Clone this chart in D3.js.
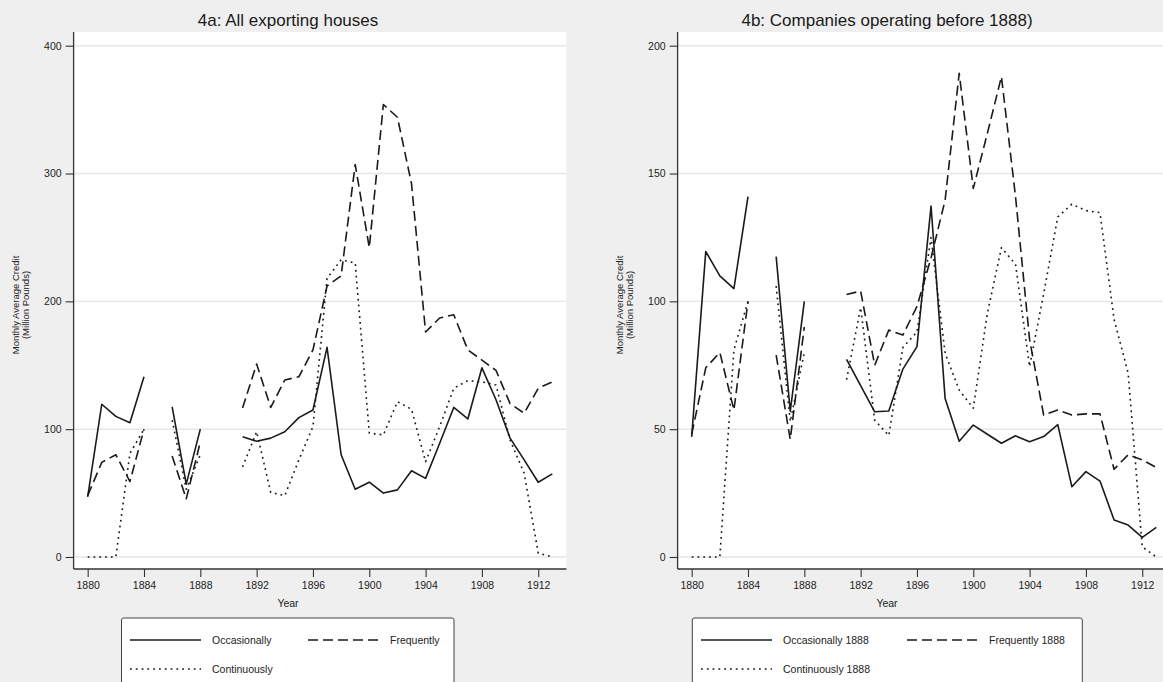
<!DOCTYPE html>
<html>
<head>
<meta charset="utf-8">
<script src="https://cdn.jsdelivr.net/npm/d3@7"></script>
<style>
  html, body { margin: 0; padding: 0; background: #efefef; }
  svg { display: block; font-family: "Liberation Sans", Arial, Helvetica, sans-serif; }
</style>
</head>
<body>
<svg id="chart" width="1163" height="682"></svg>
<script>
// Years covered by both panels (1885, 1889 and 1890 have no observations)
const years = d3.range(1880, 1914);
const xTicks = [1880, 1884, 1888, 1892, 1896, 1900, 1904, 1908, 1912];
const yTicksA = [0, 100, 200, 300, 400];
const yTicksB = [0, 50, 100, 150, 200];

// Panel 4a: all exporting houses (monthly average credit, million pounds)
const occasionallyA = [47, 119.5, 110, 105, 141, null, 117.5, 57, 100, null, null,
  94, 90.5, 93, 98, 109, 115, 164, 80, 53, 58.5, 50, 52.5, 67.5, 61.5, 89, 117, 108,
  148, 123, 93, 76, 58.5, 65];
const frequentlyA = [48, 74, 80, 59, 100, null, 79, 45.5, 90, null, null,
  116.5, 151, 117, 138.5, 141, 162, 212, 220, 307, 242, 354, 344, 292, 176, 187, 189.5,
  162, 154, 146, 120, 112.5, 132, 137];
const continuouslyA = [0, 0, 0, 81, 100, null, 107, 53, 80, null, null,
  70.5, 98, 50.5, 48, 76, 102, 218, 232.5, 230, 97, 95.5, 121.5, 115.5, 74.5, 102, 132,
  138, 137, 134.5, 91.5, 65.5, 3, 0];

// Panel 4b: companies operating before 1888
const occasionallyB = [47, 119.5, 110, 105, 141, null, 117.5, 57, 100, null, null,
  77.3, 67, 56.8, 57.1, 73.5, 82.3, 137.3, 62, 45.3, 51.6, 48, 44.5, 47.4, 45.1, 47.1,
  51.8, 27.5, 33.4, 29.7, 14.5, 12.5, 7.7, 11.6];
const frequentlyB = [48, 74, 80, 57.5, 100, null, 79, 46, 90, null, null,
  102.7, 104, 75, 88.8, 86.8, 98, 117, 139.6, 189.2, 144.2, 165.7, 187.9, 141, 85, 55.5,
  57.5, 55.5, 56, 56, 34.3, 40, 38, 35];
const continuouslyB = [0, 0, 0, 81, 100, null, 106, 53, 80, null, null,
  69.4, 97.5, 53.5, 47.5, 82, 88, 125, 79.7, 65.3, 58.2, 95.3, 121, 114.5, 74.5, 103,
  133, 138, 135.5, 134.7, 93, 71.9, 4, 0];

const seriesStyles = {
  solid: null,
  dashed: "10,5",
  dotted: "1.8,4"
};

const svg = d3.select("#chart");

function drawPanel(cfg) {
  const g = svg.append("g");
  const x = d3.scaleLinear().domain([1879, 1914]).range([cfg.left, cfg.left + 492.8]);
  const y = d3.scaleLinear().domain([0, cfg.yMax]).range([557, 45.7]);
  const top = 32, bottom = 569;
  const right = cfg.left + 492.8;

  // plot region
  g.append("rect").attr("x", cfg.left).attr("y", top)
    .attr("width", right - cfg.left).attr("height", bottom - top)
    .attr("fill", "#ffffff");

  // horizontal gridlines
  g.selectAll("line.grid").data(cfg.yTicks).join("line")
    .attr("class", "grid")
    .attr("x1", cfg.left).attr("x2", right)
    .attr("y1", d => y(d)).attr("y2", d => y(d))
    .attr("stroke", "#e6e6e6").attr("stroke-width", 1.4);

  // series
  const line = d3.line()
    .defined(d => d.v !== null)
    .x(d => x(d.year)).y(d => y(d.v));
  cfg.series.forEach(s => {
    const pts = years.map((yr, i) => ({ year: yr, v: s.values[i] }));
    g.append("path").datum(pts)
      .attr("d", line)
      .attr("fill", "none")
      .attr("stroke", "#1a1a1a")
      .attr("stroke-width", 1.6)
      .attr("stroke-linejoin", "round")
      .attr("stroke-dasharray", seriesStyles[s.style]);
  });

  // y axis
  const yAxis = g.append("g").attr("transform", `translate(${cfg.left},0)`)
    .call(d3.axisLeft(y).tickValues(cfg.yTicks).tickSize(8).tickPadding(4));
  yAxis.select(".domain").attr("d", `M0,${top}V${bottom}`);

  // x axis
  const xAxis = g.append("g").attr("transform", `translate(0,${bottom})`)
    .call(d3.axisBottom(x).tickValues(xTicks).tickFormat(d3.format("d")).tickSize(8).tickPadding(5));
  xAxis.select(".domain").attr("d", `M${cfg.left},0H${right}`);

  [yAxis, xAxis].forEach(ax => {
    ax.select(".domain").attr("stroke", "#333").attr("stroke-width", 1.3);
    ax.selectAll(".tick line").attr("stroke", "#333").attr("stroke-width", 1.1);
    ax.selectAll(".tick text").attr("fill", "#222").style("font-size", "10.5px")
      .style("font-family", "'Liberation Sans', Arial, sans-serif");
  });

  // titles
  g.append("text").attr("x", cfg.center).attr("y", 25.5)
    .attr("text-anchor", "middle").attr("fill", "#1a1a1a")
    .style("font-size", "17px").text(cfg.title);

  g.append("text").attr("x", cfg.center).attr("y", 607)
    .attr("text-anchor", "middle").attr("fill", "#222")
    .style("font-size", "10.5px").text("Year");

  const yTitle = g.append("text")
    .attr("transform", `translate(${cfg.left - 55},305) rotate(-90)`)
    .attr("text-anchor", "middle").attr("fill", "#222").style("font-size", "9.5px");
  yTitle.append("tspan").attr("x", 0).attr("dy", 0).text("Monthly Average Credit");
  yTitle.append("tspan").attr("x", 0).attr("dy", "1.1em").text("(Million Pounds)");

  // legend
  const lg = g.append("g");
  lg.append("rect")
    .attr("x", cfg.legend.x).attr("y", 618)
    .attr("width", cfg.legend.w).attr("height", 90)
    .attr("rx", 2)
    .attr("fill", "#ffffff").attr("stroke", "#444").attr("stroke-width", 1);
  const items = [
    { s: cfg.series[0], col: 0, row: 0 },
    { s: cfg.series[1], col: 1, row: 0 },
    { s: cfg.series[2], col: 0, row: 1 }
  ];
  items.forEach(it => {
    const x0 = cfg.legend.cols[it.col];
    const yy = 640 + it.row * 29;
    lg.append("line")
      .attr("x1", x0).attr("x2", x0 + 71)
      .attr("y1", yy).attr("y2", yy)
      .attr("stroke", "#1a1a1a").attr("stroke-width", 1.6)
      .attr("stroke-dasharray", seriesStyles[it.s.style]);
    lg.append("text").attr("x", x0 + 82).attr("y", yy + 3.7)
      .attr("fill", "#222").style("font-size", "10.5px")
      .text(it.s.name);
  });
}

drawPanel({
  left: 73.6, yMax: 400, yTicks: yTicksA, center: 288,
  title: "4a: All exporting houses",
  legend: { x: 121.5, w: 332.5, cols: [130, 308] },
  series: [
    { name: "Occasionally", style: "solid", values: occasionallyA },
    { name: "Frequently", style: "dashed", values: frequentlyA },
    { name: "Continuously", style: "dotted", values: continuouslyA }
  ]
});

drawPanel({
  left: 677.6, yMax: 200, yTicks: yTicksB, center: 887,
  title: "4b: Companies operating before 1888)",
  legend: { x: 692.3, w: 390, cols: [701, 907] },
  series: [
    { name: "Occasionally 1888", style: "solid", values: occasionallyB },
    { name: "Frequently 1888", style: "dashed", values: frequentlyB },
    { name: "Continuously 1888", style: "dotted", values: continuouslyB }
  ]
});
</script>
</body>
</html>
